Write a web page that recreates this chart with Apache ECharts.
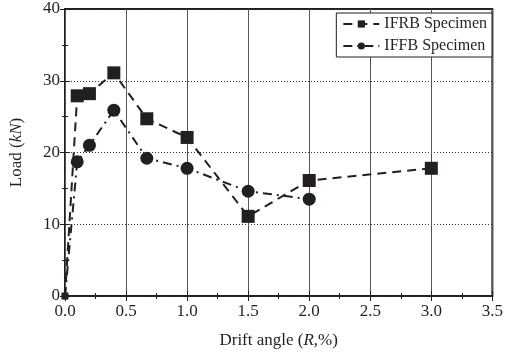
<!DOCTYPE html>
<html>
<head>
<meta charset="utf-8">
<script src="https://cdn.jsdelivr.net/npm/echarts@6/dist/echarts.min.js"></script>
<style>
html,body{margin:0;padding:0;background:#fff;}
#chart{width:506px;height:354px;}
</style>
</head>
<body>
<div id="chart"></div>
<script>
// drift angle (%) and load (kN)
var driftIFRB = [0, 0.1, 0.2, 0.4, 0.67, 1.0, 1.5, 2.0, 3.0];
var loadIFRB = [0, 27.9, 28.2, 31.1, 24.7, 22.1, 11.1, 16.1, 17.8];
var driftIFFB = [0, 0.1, 0.2, 0.4, 0.67, 1.0, 1.5, 2.0];
var loadIFFB = [0, 18.7, 21.0, 25.9, 19.2, 17.8, 14.6, 13.5];

function pairs(xs, ys) {
    var out = [];
    for (var i = 0; i < xs.length; i++) out.push([xs[i], ys[i]]);
    return out;
}
// the point at the origin is drawn half hidden under the axes
function markSize(v) { return v[0] === 0 ? 7 : 13; }

var ink = '#231f20';
var font = 'Liberation Serif';

var chart = echarts.init(document.getElementById('chart'));
var option = {
    animation: false,
    grid: {left: 63, right: 9, top: 9, bottom: 57, show: true, borderColor: ink, borderWidth: 2},
    legend: {
        right: 14, top: 13,
        orient: 'vertical',
        backgroundColor: '#fff',
        borderColor: ink, borderWidth: 1,
        padding: [3, 5, 3, 6],
        itemGap: 6, itemWidth: 36, itemHeight: 9,
        textStyle: {fontFamily: font, fontSize: 16, color: ink},
        data: ['IFRB Specimen', 'IFFB Specimen']
    },
    xAxis: [{
        type: 'value', min: 0, max: 3.5, interval: 0.5,
        name: '{a|Drift angle (}{i|R}{a|,%)}',
        nameLocation: 'middle', nameGap: 36,
        nameTextStyle: {rich: {
            a: {fontFamily: font, fontSize: 17, color: ink},
            i: {fontFamily: font, fontSize: 17, color: ink, fontStyle: 'italic'}
        }},
        axisLine: {show: false},
        axisTick: {inside: true, length: 5, lineStyle: {color: ink}},
        minorTick: {show: true, splitNumber: 2, length: 3, lineStyle: {color: ink}},
        axisLabel: {fontFamily: font, fontSize: 17, color: ink, margin: 7,
            formatter: function (v) { return v.toFixed(1); }},
        splitLine: {show: true, lineStyle: {color: '#555', width: 1}}
    }, {
        type: 'value', min: 0, max: 3.5, interval: 0.5, position: 'top',
        axisLine: {show: false}, axisLabel: {show: false}, splitLine: {show: false},
        axisTick: {inside: true, length: 5, lineStyle: {color: ink}},
        minorTick: {show: true, splitNumber: 2, length: 3, lineStyle: {color: ink}}
    }],
    yAxis: [{
        type: 'value', min: 0, max: 40, interval: 10,
        name: '{a|Load (}{i|kN}{a|)}',
        nameLocation: 'middle', nameGap: 40,
        nameTextStyle: {rich: {
            a: {fontFamily: font, fontSize: 17, color: ink},
            i: {fontFamily: font, fontSize: 17, color: ink, fontStyle: 'italic'}
        }},
        axisLine: {show: false},
        axisTick: {inside: true, length: 5, lineStyle: {color: ink}},
        minorTick: {show: true, splitNumber: 2, length: 3, lineStyle: {color: ink}},
        axisLabel: {fontFamily: font, fontSize: 17, color: ink, margin: 5},
        splitLine: {show: true, lineStyle: {color: '#333', width: 1, type: [1, 2]}}
    }, {
        type: 'value', min: 0, max: 40, interval: 10, position: 'right',
        axisLine: {show: false}, axisLabel: {show: false}, splitLine: {show: false},
        axisTick: {inside: true, length: 5, lineStyle: {color: ink}},
        minorTick: {show: true, splitNumber: 2, length: 3, lineStyle: {color: ink}}
    }],
    series: [{
        name: 'IFRB Specimen',
        type: 'line',
        data: pairs(driftIFRB, loadIFRB),
        symbol: 'rect', symbolSize: markSize,
        itemStyle: {color: ink},
        lineStyle: {color: ink, width: 2, type: [9, 6]},
        z: 3
    }, {
        name: 'IFFB Specimen',
        type: 'line',
        data: pairs(driftIFFB, loadIFFB),
        symbol: 'circle', symbolSize: markSize,
        itemStyle: {color: ink},
        lineStyle: {color: ink, width: 2, type: [9, 5, 2, 5]},
        z: 3
    }]
};
chart.setOption(option);
</script>
</body>
</html>
